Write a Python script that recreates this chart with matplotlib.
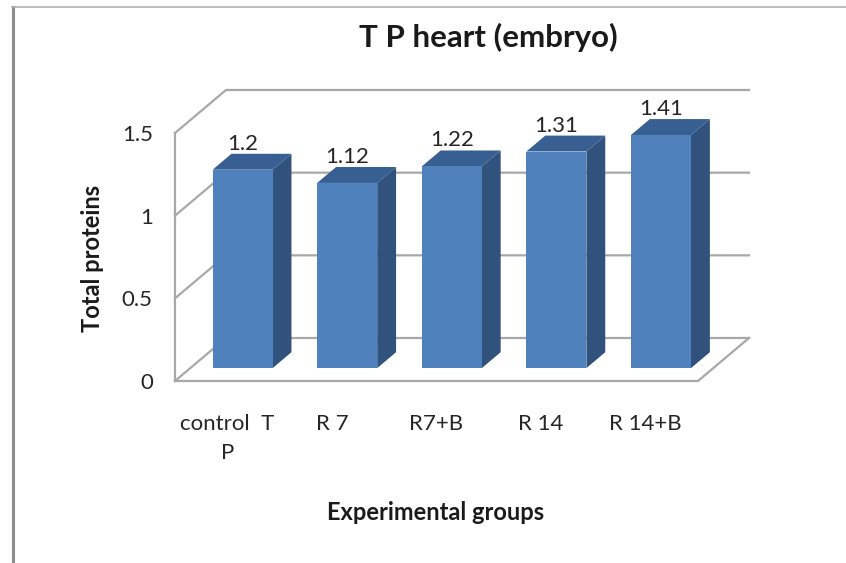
import matplotlib
matplotlib.use("Agg")
import matplotlib.pyplot as plt
from matplotlib.patches import Polygon
from matplotlib.lines import Line2D

categories = ["control  T\nP", "R 7", "R7+B", "R 14", "R 14+B"]
values = [1.2, 1.12, 1.22, 1.31, 1.41]
y_ticks = [0, 0.5, 1, 1.5]
y_tick_labels = ["0", "0.5", "1", "1.5"]

W, H = 846, 563
plt.rcParams["font.family"] = ["Lato", "DejaVu Sans"]
fig = plt.figure(figsize=(W / 100, H / 100), dpi=100, facecolor="white")
ax = fig.add_axes([175 / W, (H - 381) / H, 523 / W, 248 / H])
ax.set_xlim(0, len(categories))
ax.set_ylim(0, 1.5)
ax.patch.set_alpha(0)
for s in ax.spines.values():
    s.set_visible(False)

px = len(categories) / 523
py = 1.5 / 248
DX, DY = 51 * px, 43 * py          # depth of the 3D box
GRID = "#A8A8A8"
LW = 1.6

# walls and gridlines
for t in y_ticks:
    ax.plot([0, DX, len(categories) + DX], [t, t + DY, t + DY], color=GRID, lw=LW,
            clip_on=False, solid_joinstyle="miter", zorder=1)
ax.plot([0, 0], [0, 1.5], color=GRID, lw=LW, clip_on=False, zorder=1)
ax.plot([0, len(categories), len(categories) + DX], [0, 0, DY], color=GRID, lw=LW,
        clip_on=False, solid_joinstyle="miter", zorder=1)

# 3D bars
f0, f1 = 0.30, 0.67
half = 30 * px
fx0, fy0 = f0 * DX, f0 * DY
ox, oy = (f1 - f0) * DX, (f1 - f0) * DY
for i, v in enumerate(values):
    c = i + 0.5
    l, r = c - half + fx0, c + half + fx0
    b, t = fy0, v + fy0
    ax.add_patch(Polygon([(r, b), (r + ox, b + oy), (r + ox, t + oy), (r, t)],
                         closed=True, fc="#31527C", ec="none", clip_on=False, zorder=3))
    ax.add_patch(Polygon([(l, t), (r, t), (r + ox, t + oy), (l + ox, t + oy)],
                         closed=True, fc="#375F91", ec="none", clip_on=False, zorder=3))
    ax.add_patch(Polygon([(l, b), (r, b), (r, t), (l, t)],
                         closed=True, fc="#4F81BD", ec="none", clip_on=False, zorder=4))
    ax.text((l + r) / 2, t + oy, f"{v:g}", ha="center", va="bottom",
            fontsize=16, color="#262626", clip_on=False, zorder=5)

ax.set_yticks(y_ticks)
ax.set_yticklabels(y_tick_labels, fontsize=16, color="#262626")
ax.set_xticks([i + 0.5 for i in range(len(categories))])
ax.set_xticklabels(categories, fontsize=16, color="#262626", linespacing=1.55)
ax.tick_params(axis="y", length=0, pad=16)
ax.tick_params(axis="x", length=0, pad=24)

fig.text(488 / W, 1 - 37 / H, "T P heart (embryo)", ha="center", va="center",
         fontsize=22.5, fontweight="bold", color="#1a1a1a")
fig.text(92 / W, 1 - 258 / H, "Total proteins", rotation=90, ha="center", va="center",
         fontsize=17, fontweight="bold", color="#1a1a1a")
fig.text(436 / W, 1 - 512 / H, "Experimental groups", ha="center", va="center",
         fontsize=17, fontweight="bold", color="#1a1a1a")

# outer frame of the embedded chart
fig.add_artist(Line2D([13 / W, 13 / W], [0, 1 - 7 / H], color="#8C8C8C", lw=2.2))
fig.add_artist(Line2D([12 / W, 1], [1 - 7 / H, 1 - 7 / H], color="#B0B0B0", lw=1.2))

fig.savefig("out.png", dpi=100)
